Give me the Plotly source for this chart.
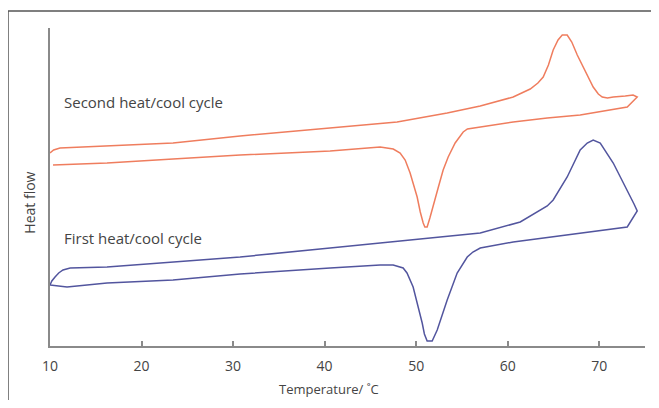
import plotly.graph_objects as go

# Second heat/cool cycle (heating then cooling), temperature in degC, heat flow in arbitrary units
second_temp = [10.0, 10.4, 11.09, 16.23, 23.44, 30.77, 40.6, 47.92, 53.39, 57.0, 60.6, 62.46, 63.3, 63.88,
               64.45, 64.97, 65.5, 65.96, 66.5, 67.0, 67.6, 68.25, 69.34, 69.9, 70.33, 70.9, 71.53, 72.84,
               73.7, 74.15,
               73.06, 67.92, 64.32, 60.6, 57.0, 55.6, 55.14, 54.7, 54.26, 53.5, 52.95, 52.4, 51.86, 51.5,
               51.2, 50.95, 50.77, 50.45, 50.11, 49.34, 48.8, 48.25, 47.5, 46.07, 40.6, 30.77, 23.44,
               16.23, 10.33]
second_flow = [193, 196, 198, 200, 203, 210, 218, 224, 233, 240, 249, 257, 263, 269,
               281, 296, 306, 311, 311, 304, 291, 279, 259, 252, 249, 248, 249, 250,
               251, 249,
               239, 231, 228, 224, 219, 217, 214, 209, 203, 189, 176, 158, 139, 128,
               119, 119, 123, 134, 149, 173, 186, 193, 197, 199, 195, 191, 187,
               183, 181]

# First heat/cool cycle
first_temp = [10.0, 10.2, 10.55, 10.95, 11.42, 12.2, 16.23, 23.44, 30.77, 40.6, 46.07, 57.0, 61.37,
              62.79, 64.32, 64.97, 65.8, 66.5, 67.92, 68.69, 69.34, 70.11, 71.53, 73.06, 73.8, 74.15,
              73.06, 60.6, 57.0, 56.2, 55.58, 54.48, 53.39, 52.3, 51.9, 51.75, 51.2, 50.9, 50.66, 49.67,
              49.0, 48.58, 47.49, 46.07, 40.6, 30.77, 23.44, 16.23, 11.86, 10.6, 10.0]
first_flow = [61, 65, 69, 73, 76, 78, 79, 84, 89, 98, 103, 113, 124,
              132, 140, 146, 158, 169, 196, 203, 206, 203, 183, 156, 142, 135,
              119, 104, 98, 94, 89, 73, 46, 16, 8, 5, 5, 12, 23, 59,
              73, 78, 81, 81, 78, 72, 66, 63, 59, 60, 61]

x_ticks = [10, 20, 30, 40, 50, 60, 70]
labels = ["Second heat/cool cycle", "First heat/cool cycle"]
x_title = "Temperature/ ˚C"
y_title = "Heat flow"

ORANGE = "#EF7D5E"
BLUE = "#52559E"
AXIS = "#8A8A8A"
TEXT = "#444444"

fig = go.Figure()
fig.add_trace(go.Scatter(x=second_temp, y=second_flow, mode="lines",
                         line=dict(color=ORANGE, width=1.5),
                         hoverinfo="skip", showlegend=False))
fig.add_trace(go.Scatter(x=first_temp, y=first_flow, mode="lines",
                         line=dict(color=BLUE, width=1.5),
                         hoverinfo="skip", showlegend=False))

fig.add_annotation(x=11.3, y=244, xref="x", yref="y", text=labels[0], showarrow=False,
                   xanchor="left", yanchor="middle", font=dict(family="Open Sans", size=15, color=TEXT))
fig.add_annotation(x=11.3, y=108, xref="x", yref="y", text=labels[1], showarrow=False,
                   xanchor="left", yanchor="middle", font=dict(family="Open Sans", size=15, color=TEXT))

# axis titles
fig.add_annotation(x=0.469, y=-0.135, xref="paper", yref="paper", text=x_title, showarrow=False,
                   xanchor="center", yanchor="middle", font=dict(family="Open Sans", size=13, color=TEXT))
fig.add_annotation(x=-0.034, y=0.45, xref="paper", yref="paper", text=y_title, showarrow=False,
                   textangle=-90, xanchor="center", yanchor="middle",
                   font=dict(family="Open Sans", size=14, color=TEXT))

# outer frame
fig.add_shape(type="rect", xref="paper", yref="paper", x0=-0.0706, x1=1.03, y0=-0.2, y1=1.0535,
              line=dict(color="#555555", width=1.5), fillcolor="rgba(0,0,0,0)", layer="below")

# the page body adds an 8px offset, so the figure is 643x392 placed at (8, 8)
fig.update_layout(
    width=643, height=392,
    margin=dict(l=42, r=6, t=20, b=54, autoexpand=False),
    paper_bgcolor="white", plot_bgcolor="white",
    font=dict(family="Open Sans", color=TEXT),
    xaxis=dict(range=[10, 75], tickvals=x_ticks, ticktext=[str(v) for v in x_ticks],
               showline=True, linecolor=AXIS, linewidth=2, showgrid=False, zeroline=False,
               ticks="inside", ticklen=5, tickcolor=AXIS, tickwidth=1.5, automargin=False,
               ticklabelstandoff=6,
               tickfont=dict(family="Open Sans", size=14, color=TEXT)),
    yaxis=dict(range=[0, 318], showline=True, linecolor=AXIS, linewidth=2, showgrid=False,
               zeroline=False, showticklabels=False, ticks="", automargin=False),
)

fig.write_html("out.html")
